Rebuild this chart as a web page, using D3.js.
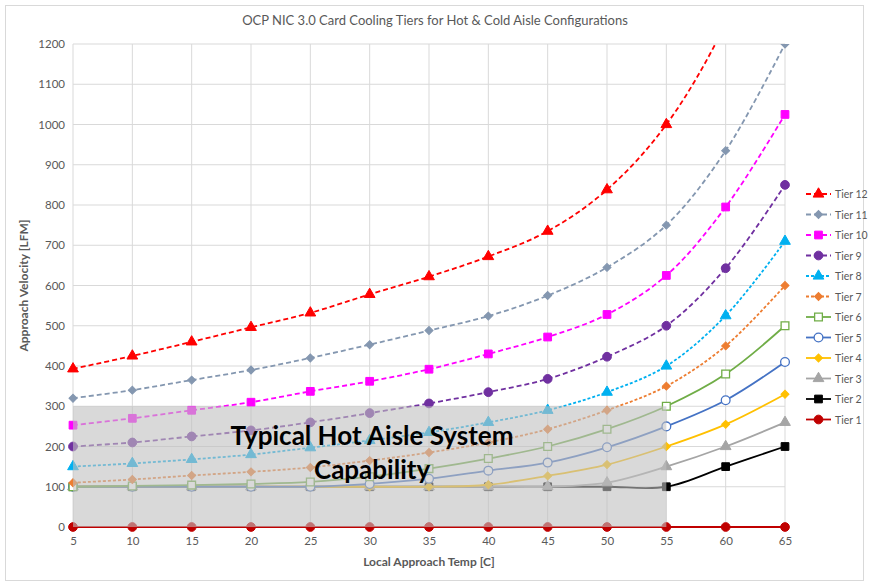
<!DOCTYPE html>
<html>
<head>
<meta charset="utf-8">
<script src="https://cdn.jsdelivr.net/npm/d3@7"></script>
<style>
  body { margin: 0; background: #fff; }
  svg { font-family: Lato, "Open Sans", sans-serif; }
</style>
</head>
<body>
<svg id="chart" width="869" height="583"></svg>
<script>
const temps = [5, 10, 15, 20, 25, 30, 35, 40, 45, 50, 55, 60, 65];
const yTicks = [0, 100, 200, 300, 400, 500, 600, 700, 800, 900, 1000, 1100, 1200];

const tier12 = [393, 425, 460, 496, 532, 578, 622, 672, 735, 838, 1000, 1250, 1600];
const tier11 = [320, 340, 365, 390, 420, 453, 488, 524, 575, 645, 750, 935, 1200];
const tier10 = [253, 270, 290, 310, 337, 362, 392, 430, 472, 528, 625, 795, 1025];
const tier9 = [200, 210, 225, 240, 260, 283, 307, 335, 368, 423, 500, 643, 850];
const tier8 = [150, 158, 168, 180, 197, 215, 235, 260, 290, 335, 400, 525, 710];
const tier7 = [110, 118, 128, 137, 148, 165, 185, 210, 243, 290, 350, 450, 600];
const tier6 = [100, 102, 104, 107, 112, 125, 145, 170, 200, 243, 300, 380, 500];
const tier5 = [100, 100, 100, 100, 100, 107, 120, 140, 160, 198, 250, 315, 410];
const tier4 = [100, 100, 100, 100, 100, 100, 100, 105, 127, 155, 200, 255, 330];
const tier3 = [100, 100, 100, 100, 100, 100, 100, 100, 100, 110, 150, 200, 260];
const tier2 = [100, 100, 100, 100, 100, 100, 100, 100, 100, 100, 100, 150, 200];
const tier1 = [0, 0, 0, 0, 0, 0, 0, 0, 0, 0, 0, 0, 0];

// hot aisle capability region: temps 5..55, velocity 0..300
const hotAisle = { x0: 5, x1: 55, y0: 0, y1: 300 };

const series = [
  { name: "Tier 12", values: tier12, color: "#ff0000", dash: "5,3", marker: "triangle", fill: true },
  { name: "Tier 11", values: tier11, color: "#8497b0", dash: "5,3", marker: "diamond", fill: true },
  { name: "Tier 10", values: tier10, color: "#ff00ff", dash: "5,3", marker: "square", fill: true },
  { name: "Tier 9", values: tier9, color: "#7030a0", dash: "5,3", marker: "circle", fill: true },
  { name: "Tier 8", values: tier8, color: "#00b0f0", dash: "3,2", marker: "triangle", fill: true },
  { name: "Tier 7", values: tier7, color: "#ed7d31", dash: "3,2", marker: "diamond", fill: true },
  { name: "Tier 6", values: tier6, color: "#70ad47", dash: null, marker: "square", fill: false },
  { name: "Tier 5", values: tier5, color: "#4472c4", dash: null, marker: "circle", fill: false },
  { name: "Tier 4", values: tier4, color: "#ffc000", dash: null, marker: "diamond", fill: true },
  { name: "Tier 3", values: tier3, color: "#a5a5a5", dash: null, marker: "triangle", fill: true },
  { name: "Tier 2", values: tier2, color: "#000000", dash: null, marker: "square", fill: true },
  { name: "Tier 1", values: tier1, color: "#c00000", dash: null, marker: "circle", fill: true }
];

const svg = d3.select("#chart");
const width = 869, height = 583;
const margin = { top: 44, right: 84, bottom: 56, left: 73 };
const innerWidth = width - margin.left - margin.right;
const innerHeight = height - margin.top - margin.bottom;

svg.append("rect")
  .attr("x", 5.5).attr("y", 5.5)
  .attr("width", width - 11).attr("height", height - 8)
  .attr("fill", "#fff").attr("stroke", "#d9d9d9");

svg.append("text")
  .attr("x", 435).attr("y", 25)
  .attr("text-anchor", "middle")
  .attr("font-size", "13px")
  .attr("fill", "#595959")
  .text("OCP NIC 3.0 Card Cooling Tiers for Hot & Cold Aisle Configurations");

const g = svg.append("g")
  .attr("transform", `translate(${margin.left},${margin.top})`);

const x = d3.scaleLinear().domain([5, 65]).range([0, innerWidth]);
const y = d3.scaleLinear().domain([0, 1200]).range([innerHeight, 0]);

// grid
g.append("g").selectAll("line").data(yTicks).enter().append("line")
  .attr("x1", 0).attr("x2", innerWidth)
  .attr("y1", d => y(d)).attr("y2", d => y(d))
  .attr("stroke", "#d9d9d9").attr("stroke-width", 1);
g.append("g").selectAll("line").data(temps).enter().append("line")
  .attr("x1", d => x(d)).attr("x2", d => x(d))
  .attr("y1", 0).attr("y2", innerHeight)
  .attr("stroke", "#d9d9d9").attr("stroke-width", 1);

// axes
const xAxis = g.append("g")
  .attr("transform", `translate(0,${innerHeight})`)
  .call(d3.axisBottom(x).tickValues(temps).tickSize(0).tickPadding(10));
xAxis.select(".domain").attr("stroke", "#d9d9d9");
xAxis.selectAll("text").attr("font-size", "11.5px").attr("fill", "#595959").attr("font-family", "Lato, sans-serif");

const yAxis = g.append("g")
  .call(d3.axisLeft(y).tickValues(yTicks).tickFormat(d3.format("d")).tickSize(0).tickPadding(8));
yAxis.select(".domain").remove();
yAxis.selectAll("text").attr("font-size", "11.5px").attr("fill", "#595959").attr("font-family", "Lato, sans-serif");

g.append("text")
  .attr("x", innerWidth / 2).attr("y", innerHeight + 39)
  .attr("text-anchor", "middle")
  .attr("font-size", "12px").attr("font-weight", "bold")
  .attr("fill", "#595959")
  .text("Local Approach Temp [C]");

g.append("text")
  .attr("transform", "rotate(-90)")
  .attr("x", -innerHeight / 2).attr("y", -45)
  .attr("text-anchor", "middle")
  .attr("font-size", "12px").attr("font-weight", "bold")
  .attr("fill", "#595959")
  .text("Approach Velocity [LFM]");

svg.append("defs").append("clipPath").attr("id", "plot-clip")
  .append("rect").attr("x", -8).attr("y", 0)
  .attr("width", innerWidth + 16).attr("height", innerHeight + 8);

const line = d3.line()
  .x((d, i) => x(temps[i]))
  .y(d => y(d))
  .curve(d3.curveCatmullRom.alpha(0.5));

const symbolType = {
  triangle: d3.symbolTriangle,
  diamond: d3.symbolSquare,
  square: d3.symbolSquare,
  circle: d3.symbolCircle
};
const symbolSize = { triangle: 50, diamond: 32, square: 60, circle: 60 };

function drawMarker(sel, s) {
  sel.attr("d", d3.symbol().type(symbolType[s.marker]).size(symbolSize[s.marker]))
    .attr("fill", s.fill ? s.color : "#fff")
    .attr("stroke", s.color)
    .attr("stroke-width", s.fill ? 1 : 1.3);
}
const rot = s => s.marker === "diamond" ? " rotate(45)" : "";

const plot = g.append("g").attr("clip-path", "url(#plot-clip)");

series.slice().reverse().forEach(s => {
  const sg = plot.append("g");
  sg.append("path")
    .datum(s.values)
    .attr("d", line)
    .attr("fill", "none")
    .attr("stroke", s.color)
    .attr("stroke-width", 1.8)
    .attr("stroke-dasharray", s.dash);
  sg.selectAll("path.pt")
    .data(s.values.map((v, i) => ({ t: temps[i], v })).filter(d => d.v <= 1200))
    .enter().append("path")
    .attr("class", "pt")
    .attr("transform", d => `translate(${x(d.t)},${y(d.v)})` + rot(s))
    .call(drawMarker, s);
});

// hot aisle shaded region
g.append("rect")
  .attr("x", x(hotAisle.x0)).attr("y", y(hotAisle.y1))
  .attr("width", x(hotAisle.x1) - x(hotAisle.x0))
  .attr("height", y(hotAisle.y0) - y(hotAisle.y1))
  .attr("fill", "#c0c0c0").attr("fill-opacity", 0.6);

const label = g.append("text")
  .attr("text-anchor", "middle")
  .attr("font-size", "26px").attr("font-weight", "bold")
  .attr("fill", "#000");
label.append("tspan").attr("x", x(30.2)).attr("y", y(203)).text("Typical Hot Aisle System");
label.append("tspan").attr("x", x(30.2)).attr("y", y(120)).text("Capability");

// legend
const legend = svg.append("g").attr("transform", "translate(806,194)");
series.forEach((s, i) => {
  const item = legend.append("g").attr("transform", `translate(0,${i * 20.5})`);
  item.append("line")
    .attr("x1", 0).attr("x2", 25).attr("y1", 0).attr("y2", 0)
    .attr("stroke", s.color).attr("stroke-width", 1.8)
    .attr("stroke-dasharray", s.dash);
  item.append("path")
    .attr("transform", "translate(12.5,0)" + rot(s))
    .call(drawMarker, s);
  item.append("text")
    .attr("x", 29).attr("y", 4)
    .attr("font-size", "10.5px").attr("fill", "#595959")
    .text(s.name);
});
</script>
</body>
</html>
